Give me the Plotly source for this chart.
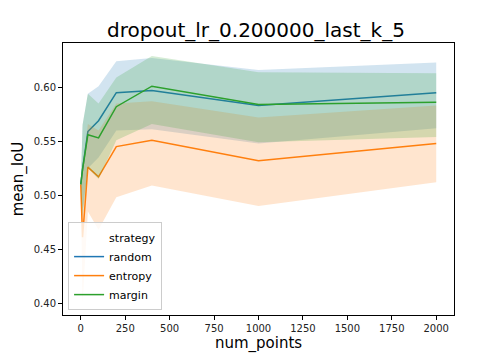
import plotly.graph_objects as go

# data
num_points = [0, 10, 40, 100, 200, 400, 1000, 2000]

random_mean = [0.510, 0.524, 0.559, 0.569, 0.595, 0.597, 0.583, 0.595]
random_hi = [0.510, 0.565, 0.594, 0.601, 0.624, 0.627, 0.616, 0.623]
random_lo = [0.510, 0.485, 0.525, 0.535, 0.560, 0.561, 0.548, 0.562]

entropy_mean = [0.510, 0.461, 0.526, 0.517, 0.545, 0.551, 0.532, 0.548]
entropy_hi = [0.510, 0.520, 0.566, 0.560, 0.585, 0.587, 0.572, 0.583]
entropy_lo = [0.510, 0.400, 0.485, 0.468, 0.498, 0.509, 0.490, 0.512]

margin_mean = [0.510, 0.524, 0.556, 0.553, 0.582, 0.601, 0.584, 0.586]
margin_hi = [0.510, 0.565, 0.594, 0.585, 0.609, 0.629, 0.614, 0.613]
margin_lo = [0.510, 0.480, 0.525, 0.515, 0.551, 0.566, 0.549, 0.554]

y_ticks = [0.40, 0.45, 0.50, 0.55, 0.60]
x_ticks = [0, 250, 500, 750, 1000, 1250, 1500, 1750, 2000]

series = [
    ("random", random_mean, random_lo, random_hi, (31, 119, 180)),
    ("entropy", entropy_mean, entropy_lo, entropy_hi, (255, 127, 14)),
    ("margin", margin_mean, margin_lo, margin_hi, (44, 160, 44)),
]

fig = go.Figure()

# blank entry that acts as the legend heading, like seaborn does
fig.add_trace(
    go.Scatter(
        x=[None], y=[None], mode="lines", name="strategy",
        line=dict(color="rgba(0,0,0,0)"),
    )
)

for name, mean, lo, hi, (r, g, b) in series:
    fig.add_trace(
        go.Scatter(
            x=num_points, y=lo, mode="lines", line=dict(width=0),
            showlegend=False, hoverinfo="skip",
        )
    )
    fig.add_trace(
        go.Scatter(
            x=num_points, y=hi, mode="lines", line=dict(width=0),
            fill="tonexty", fillcolor="rgba(%d,%d,%d,0.2)" % (r, g, b),
            showlegend=False, hoverinfo="skip",
        )
    )
    fig.add_trace(
        go.Scatter(
            x=num_points, y=mean, mode="lines", name=name,
            line=dict(color="rgb(%d,%d,%d)" % (r, g, b), width=1.5),
        )
    )

axis_style = dict(
    showline=True, linecolor="black", linewidth=1, mirror=True,
    ticks="outside", ticklen=4, tickcolor="black",
    showgrid=False, zeroline=False, automargin=False,
    tickfont=dict(size=10, color="#222"),
)

# the page body has an 8px default margin, so the figure is 8px smaller
fig.update_layout(
    width=496,
    height=352,
    margin=dict(l=55, r=50, t=35, b=45),
    paper_bgcolor="white",
    plot_bgcolor="white",
    font=dict(family="DejaVu Sans", color="black"),
    title=dict(
        text="dropout_lr_0.200000_last_k_5", x=0.5, xanchor="center",
        y=0.937, yanchor="middle", font=dict(size=20),
    ),
    xaxis=dict(
        title=dict(text="num_points", font=dict(size=15), standoff=4),
        range=[-100, 2100], tickvals=x_ticks, **axis_style,
    ),
    yaxis=dict(
        title=dict(text="mean_IoU", font=dict(size=15), standoff=6),
        range=[0.389, 0.641], tickvals=y_ticks, tickformat=".2f", **axis_style,
    ),
    legend=dict(
        x=0.013, y=0.018, xanchor="left", yanchor="bottom",
        bgcolor="rgba(255,255,255,0.8)", bordercolor="#ccc", borderwidth=1,
        font=dict(size=11), tracegroupgap=0, traceorder="normal",
    ),
    showlegend=True,
)

fig.write_html("out.html")
